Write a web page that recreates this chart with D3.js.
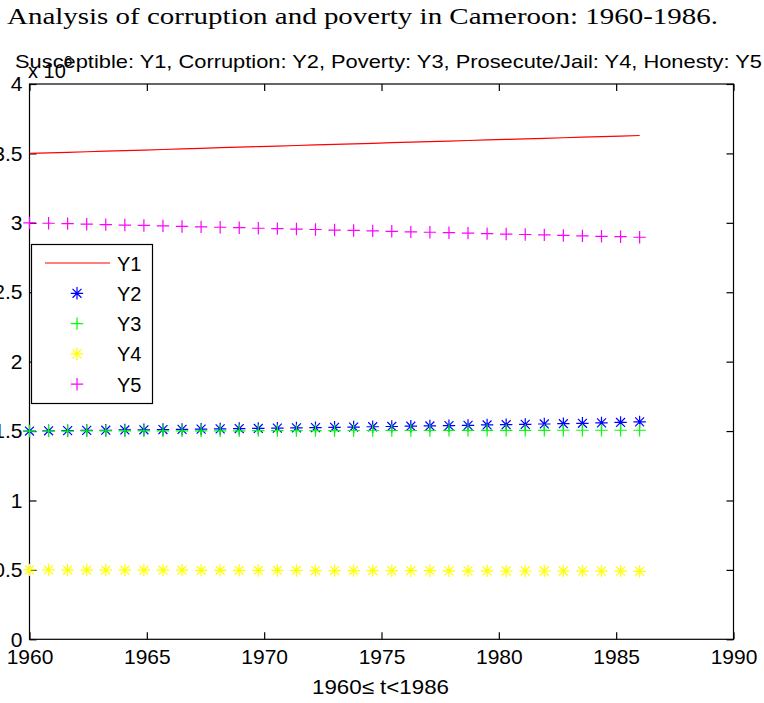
<!DOCTYPE html>
<html><head><meta charset="utf-8">
<script src="https://cdn.jsdelivr.net/npm/d3@7"></script>
<style>body{margin:0;background:#fff}svg{display:block}</style>
</head><body>
<svg id="c" width="764" height="703"></svg>
<script>
const years = [1960,1960.8125,1961.625,1962.4375,1963.25,1964.0625,1964.875,1965.6875,1966.5,1967.3125,1968.125,1968.9375,1969.75,1970.5625,1971.375,1972.1875,1973,1973.8125,1974.625,1975.4375,1976.25,1977.0625,1977.875,1978.6875,1979.5,1980.3125,1981.125,1981.9375,1982.75,1983.5625,1984.375,1985.1875,1986];
const Y1 = [3.500,3.504,3.508,3.512,3.516,3.520,3.524,3.528,3.533,3.537,3.541,3.545,3.549,3.553,3.557,3.561,3.565,3.569,3.573,3.577,3.581,3.585,3.589,3.593,3.597,3.601,3.605,3.609,3.613,3.617,3.621,3.625,3.629];
const Y2 = [1.500,1.502,1.503,1.505,1.506,1.508,1.509,1.511,1.512,1.514,1.516,1.518,1.519,1.521,1.523,1.525,1.527,1.529,1.531,1.533,1.535,1.537,1.539,1.541,1.544,1.546,1.548,1.551,1.553,1.556,1.559,1.562,1.566];
const Y3 = [1.500,1.500,1.500,1.501,1.501,1.501,1.501,1.502,1.502,1.502,1.502,1.502,1.503,1.503,1.503,1.503,1.503,1.504,1.504,1.504,1.504,1.504,1.505,1.505,1.505,1.505,1.505,1.505,1.506,1.506,1.506,1.506,1.506];
const Y4 = [0.500,0.500,0.499,0.499,0.499,0.498,0.498,0.498,0.498,0.497,0.497,0.497,0.496,0.496,0.496,0.495,0.495,0.495,0.495,0.494,0.494,0.494,0.493,0.493,0.493,0.492,0.492,0.492,0.492,0.491,0.491,0.491,0.490];
const Y5 = [3.000,2.997,2.994,2.990,2.987,2.984,2.981,2.978,2.974,2.971,2.968,2.965,2.961,2.958,2.955,2.952,2.948,2.945,2.942,2.939,2.935,2.932,2.929,2.926,2.922,2.919,2.916,2.913,2.909,2.906,2.903,2.900,2.896];
const xTicks = [1960,1965,1970,1975,1980,1985,1990];
const yTicks = [0,0.5,1,1.5,2,2.5,3,3.5,4];
const yTickLabels = ["0","0.5","1","1.5","2","2.5","3","3.5","4"];
const seriesNames = ["Y1","Y2","Y3","Y4","Y5"];
const seriesColors = ["#ff0000","#0000ff","#00ff00","#ffff00","#ff00ff"];
const seriesMarkers = ["line","star","plus","star","plus"];
const titleText = "Analysis of corruption and poverty in Cameroon: 1960-1986.";
const subtitleText = "Susceptible: Y1, Corruption: Y2, Poverty: Y3, Prosecute/Jail: Y4, Honesty: Y5";
const xLabelText = "1960\u2264 t<1986";

const svg = d3.select("#c");
const L = 29.5, R = 733.5, T = 84, B = 639.3;
const x = d3.scaleLinear().domain([1960,1990]).range([L,R]);
const y = d3.scaleLinear().domain([0,4]).range([B,T]);
const sans = "'Liberation Sans', Arial, Helvetica, sans-serif";

// title
svg.append("text").attr("x",7).attr("y",24).attr("font-family","'Liberation Serif', 'DejaVu Serif', serif")
  .attr("font-size",23).attr("textLength",711).attr("lengthAdjust","spacingAndGlyphs").attr("fill","#000").text(titleText);
svg.append("text").attr("x",15).attr("y",68).attr("font-family",sans)
  .attr("font-size",18.5).attr("textLength",747).attr("lengthAdjust","spacingAndGlyphs").attr("fill","#000").text(subtitleText);
// exponent
svg.append("text").attr("x",28).attr("y",78).attr("font-family",sans).attr("font-size",20).text("x 10");
svg.append("text").attr("x",64).attr("y",66).attr("font-family",sans).attr("font-size",15).text("6");

// axes box with inward ticks
const g = svg.append("g");
g.append("rect").attr("x",L).attr("y",T).attr("width",R-L).attr("height",B-T).attr("fill","none").attr("stroke","#000").attr("stroke-width",1.2);
const tl = 7;
const bottomAxis = d3.axisBottom(x).tickValues(xTicks).tickSize(-tl).tickFormat(d3.format("d")).tickPadding(10);
const topAxis = d3.axisTop(x).tickValues(xTicks).tickSize(-tl).tickFormat("");
const leftAxis = d3.axisLeft(y).tickValues(yTicks).tickSize(-tl).tickFormat((d,i)=>yTickLabels[i]).tickPadding(7);
const rightAxis = d3.axisRight(y).tickValues(yTicks).tickSize(-tl).tickFormat("");
function styleAxis(sel){
  sel.select(".domain").remove();
  sel.selectAll(".tick line").attr("stroke","#000").attr("stroke-width",1.2);
  sel.selectAll(".tick text").attr("font-family",sans).attr("font-size",21).attr("fill","#000");
}
g.append("g").attr("transform",`translate(0,${B})`).call(bottomAxis).call(styleAxis);
g.append("g").attr("transform",`translate(0,${T})`).call(topAxis).call(styleAxis);
g.append("g").attr("transform",`translate(${L},0)`).call(leftAxis).call(styleAxis);
g.append("g").attr("transform",`translate(${R},0)`).call(rightAxis).call(styleAxis);

// x label
svg.append("text").attr("x",312).attr("y",694).attr("font-family",sans).attr("font-size",20)
  .attr("textLength",137).attr("lengthAdjust","spacingAndGlyphs").text(xLabelText);

// markers
function markerPath(type, s){
  if(type==="plus") return `M${-s},0H${s}M0,${-s}V${s}`;
  const d = s*0.72;
  return `M${-s},0H${s}M0,${-s}V${s}M${-d},${-d}L${d},${d}M${-d},${d}L${d},${-d}`;
}
const allSeries = [Y1,Y2,Y3,Y4,Y5];
allSeries.forEach((vals,k)=>{
  const data = years.map((t,i)=>({t, v: vals[i]}));
  if(seriesMarkers[k]==="line"){
    svg.append("path").datum(data).attr("fill","none").attr("stroke",seriesColors[k]).attr("stroke-width",1.2)
      .attr("d", d3.line().x(d=>x(d.t)).y(d=>y(d.v)));
  } else {
    svg.append("g").selectAll("path").data(data).join("path")
      .attr("transform",d=>`translate(${x(d.t)},${y(d.v)})`)
      .attr("d", markerPath(seriesMarkers[k],6.2))
      .attr("fill","none").attr("stroke",seriesColors[k]).attr("stroke-width",1.2);
  }
});

// legend
const lg = svg.append("g");
lg.append("rect").attr("x",31.5).attr("y",244.5).attr("width",121).attr("height",159).attr("fill","#fff").attr("stroke","#000").attr("stroke-width",1.2);
seriesNames.forEach((name,k)=>{
  const ry = 263 + k*30.3;
  if(seriesMarkers[k]==="line"){
    lg.append("line").attr("x1",45).attr("x2",110).attr("y1",ry).attr("y2",ry).attr("stroke",seriesColors[k]).attr("stroke-width",1.2);
  } else {
    lg.append("path").attr("transform",`translate(77,${ry})`).attr("d",markerPath(seriesMarkers[k],6.2))
      .attr("fill","none").attr("stroke",seriesColors[k]).attr("stroke-width",1.2);
  }
  lg.append("text").attr("x",117).attr("y",ry+7.5).attr("font-family",sans).attr("font-size",20).text(name);
});
</script>
</body></html>
